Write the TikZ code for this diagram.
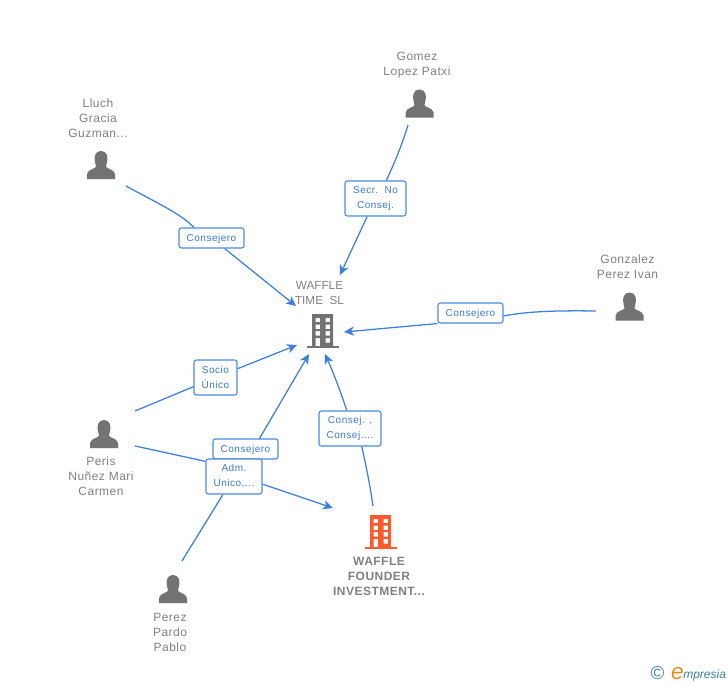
\documentclass[tikz,border=0pt]{standalone}
\usepackage{fontspec}
\setmainfont{Liberation Sans}
\usetikzlibrary{arrows.meta,backgrounds}
\definecolor{linkblue}{HTML}{3F80DD}
\definecolor{boxblue}{HTML}{4A8AE0}
\definecolor{labelblue}{HTML}{3A78D0}
\definecolor{icongray}{HTML}{737373}
\definecolor{textgray}{HTML}{808080}
\definecolor{founderred}{HTML}{FF5A2B}
\definecolor{logoteal}{HTML}{3F7F95}
\definecolor{logoorange}{HTML}{F08A1D}
\tikzset{
  x=0.75pt,y=-0.75pt,
  link/.style={draw=linkblue,line width=0.95pt},
  linkarrow/.style={link,-{Stealth[length=7.5pt,width=7pt,inset=2.2pt]}},
  tagbase/.style={draw=boxblue,line width=0.8pt,rounded corners=1.8pt,fill=white,text=labelblue,
    font=\fontsize{7.5}{11.25}\selectfont\addfontfeatures{LetterSpace=5},align=center,inner sep=0pt},
  tag/.style={tagbase,minimum height=15pt,text height=5.8pt,text depth=0.5pt},
  tagtall/.style={tagbase,minimum height=26.25pt},
  caption/.style={text=textgray,font=\fontsize{9}{11.25}\selectfont\addfontfeatures{LetterSpace=4},align=center,inner sep=0pt},
  plaincaption/.style={text=textgray,font=\fontsize{8.8}{11.25}\selectfont,align=center,inner sep=0pt},
  boldcaption/.style={text=textgray,font=\fontsize{9}{11.25}\selectfont\bfseries\addfontfeatures{LetterSpace=4},align=center,inner sep=0pt},
  person/.pic={
    \fill[icongray] (0,-14) .. controls (6,-14) and (7,-8) .. (6.2,-4)
      .. controls (5.6,-1.5) and (5,-0.5) .. (5,1.5)
      .. controls (5.5,4) and (13,4) .. (14,9) -- (14,14) -- (-14,14) -- (-14,9)
      .. controls (-13,4) and (-5.5,4) .. (-5,1.5)
      .. controls (-5,-0.5) and (-5.6,-1.5) .. (-6.2,-4)
      .. controls (-7,-8) and (-6,-14) .. (0,-14) -- cycle;
  },
  building/.pic={
    \fill[#1,even odd rule] (-10.5,-17) rectangle (10.5,15)
      (-7,-13) rectangle (-2.5,-9)  (3,-13) rectangle (7.5,-9)
      (-7,-6.5) rectangle (-2.5,-2) (3,-6.5) rectangle (7.5,-2)
      (-7,0) rectangle (-2.5,4.5)   (3,0) rectangle (7.5,4.5)
      (-7,7) rectangle (-2.5,15)    (3,7) rectangle (7.5,11.5);
    \fill[#1] (-15.5,14.5) rectangle (16,17);
  },
}
\begin{document}
\begin{tikzpicture}
\useasboundingbox (0,0) rectangle (728,685);

% connector end points
\coordinate (lluchS) at (126,186);
\coordinate (lluchT) at (296,306);
\coordinate (gomezS) at (408,125);
\coordinate (gomezT) at (340,275);
\coordinate (gonzS) at (596,311);
\coordinate (gonzT) at (344,332);
\coordinate (perisS) at (135,411);
\coordinate (perisT) at (297,345);
\coordinate (perisB) at (135,446);
\coordinate (perisBT) at (333,508);
\coordinate (perezS) at (182,561);
\coordinate (consT) at (309,354);
\coordinate (foundS) at (373,506);
\coordinate (foundT) at (325,354);

% label boxes
\node[tag,minimum width=48.75pt] (tLluch) at (211.5,238) {Consejero};
\node[tagtall,minimum width=45.75pt] (tGomez) at (375.5,198.5) {Secr.\ \ No\\Consej.};
\node[tag,minimum width=48.75pt] (tGonz) at (470.5,313) {Consejero};
\node[tagtall,minimum width=32.25pt] (tSocio) at (215.5,377.5) {Socio\\Único};
\node[tagtall,minimum width=46.5pt] (tCons) at (350,428.5) {Consej. ,\\Consej....};
\node[tag,minimum width=48.75pt] (tConsB) at (245.5,449) {Consejero};
\node[tagtall,minimum width=42pt] (tAdm) at (234,476.5) {Adm.\\Unico,...};

% connectors
\begin{scope}[on background layer]
\draw[link] (lluchS) .. controls (155,202) and (180,213) .. (tLluch.149);
\draw[linkarrow] (tLluch) -- (lluchT);
\draw[link] (gomezS) .. controls (401,148) and (393,166) .. (tGomez.59);
\draw[linkarrow] (tGomez) -- (gomezT);
\draw[link] (gonzS) .. controls (560,310.5) and (530,311) .. (tGonz.-5);
\draw[linkarrow] (tGonz.south west) -- (gonzT);
\draw[link] (perisS) -- (tSocio);
\draw[linkarrow] (tSocio) -- (perisT);
\draw[link] (perisB) -- (tAdm.152);
\draw[linkarrow] (tAdm.-15) -- (perisBT);
\draw[link] (perezS) -- (tAdm);
\draw[linkarrow] (tConsB.37) -- (consT);
\draw[link] (foundS) .. controls (370,485) and (366,465) .. (tCons.-57);
\draw[linkarrow] (tCons.100) .. controls (340,390) and (333,372) .. (foundT);
\end{scope}

% icons
\pic at (101,165) {person};
\pic at (419.5,103.5) {person};
\pic at (629.5,306.5) {person};
\pic at (104,434) {person};
\pic at (173,589) {person};
\pic at (322.5,331) {building=icongray};
\pic at (380.5,532) {building=founderred};

% captions
\node[caption] (nLluch) at (98,118) {Lluch\\Gracia\\Guzman...};
\node[caption] (nGomez) at (417,65.5) {Gomez\\Lopez Patxi};
\node[caption] (nGonz) at (627.5,266.5) {Gonzalez\\Perez Ivan};
\node[caption] (nPeris) at (101,476) {Peris\\Nuñez Mari\\Carmen};
\node[caption] (nPerez) at (170,632.5) {Perez\\Pardo\\Pablo};
\node[plaincaption] (nWaffle) at (319.5,293.5) {WAFFLE\\TIME\ \ SL};
\node[boldcaption] (nFounder) at (379,576.5) {WAFFLE\\FOUNDER\\INVESTMENT...};

% logo
\node[inner sep=0pt,text=logoteal,font=\fontsize{14}{14}\selectfont] (logoC) at (657.5,673.5) {©};
\node[inner sep=0pt,anchor=base west,text=logoteal,font=\fontsize{9}{10}\selectfont\itshape] (logoT) at (683,678) {mpresia};
\node[inner sep=0pt,anchor=base east,text=logoorange,font=\fontsize{17}{18}\selectfont\itshape] (logoE) at (684,679) {e};
\end{tikzpicture}
\end{document}
